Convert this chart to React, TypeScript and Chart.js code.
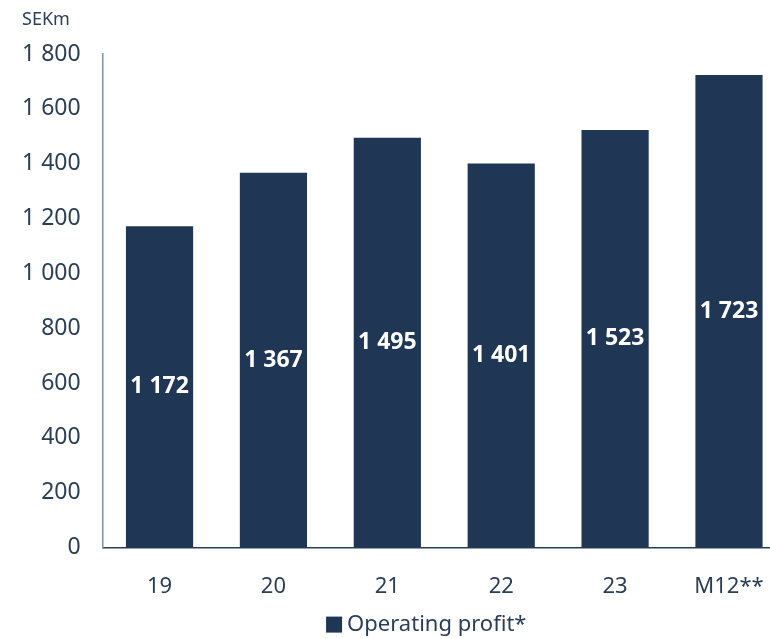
import React, { useEffect, useRef } from "react";
import { Chart, registerables } from "chart.js";

Chart.register(...registerables);

const categories = ["19", "20", "21", "22", "23", "M12**"];
const operatingProfit = [1172, 1367, 1495, 1401, 1523, 1723];
const seriesLabel = "Operating profit*";
const unitLabel = "SEKm";

const BAR = "#1f3654";
const TEXT = "#2b3e57";
const FONT = "'Noto Sans', 'Open Sans', sans-serif";

const fmt = (v: number) => String(v).replace(/\B(?=(\d{3})+(?!\d))/g, " ");

const labelPlugin = {
  id: "barLabels",
  afterDatasetsDraw(chart: any) {
    const ctx = chart.ctx;
    const meta = chart.getDatasetMeta(0);
    ctx.save();
    ctx.fillStyle = "#ffffff";
    ctx.font = `bold 23px ${FONT}`;
    ctx.textAlign = "center";
    ctx.textBaseline = "middle";
    meta.data.forEach((bar: any, i: number) => {
      const y = (bar.y + bar.base) / 2;
      ctx.fillText(fmt(operatingProfit[i]), bar.x, y);
    });
    ctx.restore();
  },
};

const unitPlugin = {
  id: "unitLabel",
  afterDraw(chart: any) {
    const ctx = chart.ctx;
    const ys = chart.scales.y;
    ctx.save();
    ctx.fillStyle = TEXT;
    ctx.font = `18px ${FONT}`;
    ctx.textAlign = "left";
    ctx.textBaseline = "middle";
    ctx.fillText(unitLabel, ys.left + 22, 20);
    ctx.restore();
  },
};

// custom legend drawn below the x axis labels
const legendPlugin = {
  id: "customLegend",
  afterDraw(chart: any) {
    const ctx = chart.ctx;
    const ds = chart.data.datasets[0];
    const area = chart.chartArea;
    ctx.save();
    ctx.font = `22px ${FONT}`;
    const textW = ctx.measureText(ds.label).width;
    const box = 16;
    const gap = 5;
    const total = box + gap + textW;
    const cx = (area.left + area.right) / 2 - 18;
    const x0 = cx - total / 2;
    const cy = area.bottom + 77;
    ctx.fillStyle = ds.backgroundColor;
    ctx.fillRect(x0, cy - box / 2, box, box);
    ctx.fillStyle = TEXT;
    ctx.textAlign = "left";
    ctx.textBaseline = "middle";
    ctx.fillText(ds.label, x0 + box + gap, cy);
    ctx.restore();
  },
};

export default function App() {
  const ref = useRef<HTMLCanvasElement>(null);
  useEffect(() => {
    if (!ref.current) return;
    const chart = new Chart(ref.current, {
      type: "bar",
      data: {
        labels: categories,
        datasets: [
          {
            label: seriesLabel,
            data: operatingProfit,
            backgroundColor: BAR,
            barPercentage: 0.59,
            categoryPercentage: 1,
          },
        ],
      },
      options: {
        animation: false,
        responsive: false,
        maintainAspectRatio: false,
        layout: { padding: { left: 0, top: 54, right: 4, bottom: 12 } },
        plugins: {
          title: { display: false },
          legend: { display: false },
          tooltip: { enabled: false },
        },
        scales: {
          x: {
            grid: { display: false, drawTicks: false },
            border: { display: true, color: "#2b3e57", width: 1.5 },
            ticks: { color: TEXT, font: { family: FONT, size: 22 }, padding: 26 },
          },
          y: {
            min: 0,
            max: 1800,
            grid: { display: false, drawTicks: false },
            border: { display: true, color: "#8090a5", width: 1.5 },
            ticks: {
              stepSize: 200,
              color: TEXT,
              font: { family: FONT, size: 23 },
              padding: 22,
              callback: (v: any) => fmt(Number(v)),
            },
          },
        },
      },
      plugins: [labelPlugin, unitPlugin, legendPlugin],
    });
    return () => chart.destroy();
  }, []);
  return (
    <div style={{ position: "fixed", left: 0, top: 0, width: 770, height: 638, overflow: "hidden", background: "#fff" }}>
      <canvas ref={ref} width={790} height={638} style={{ display: "block" }} />
    </div>
  );
}
